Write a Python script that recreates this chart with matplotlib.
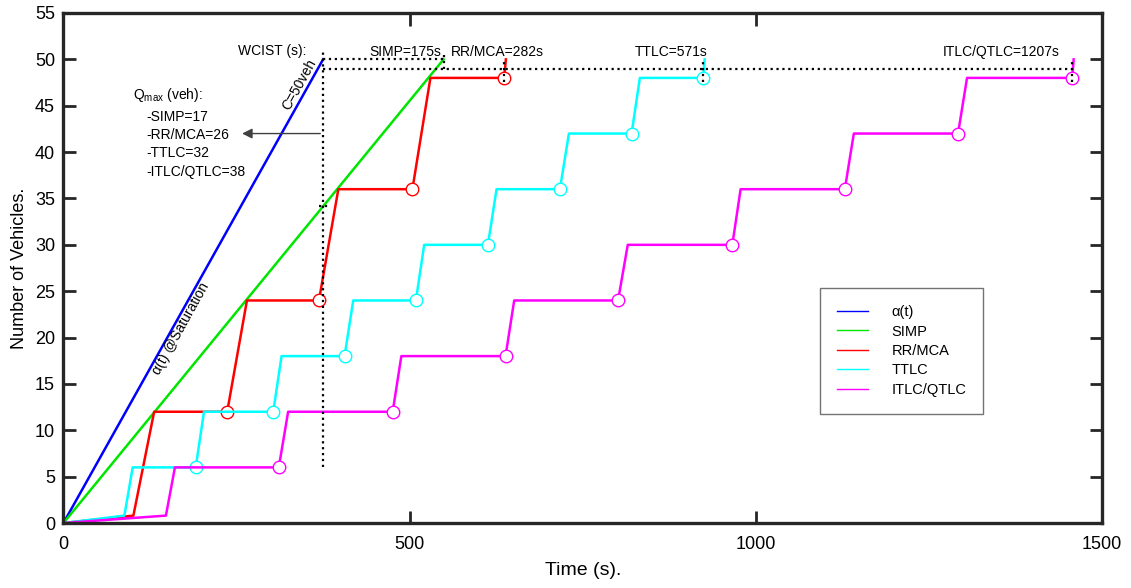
import matplotlib
matplotlib.use("Agg")
import matplotlib.pyplot as plt

plt.rcParams['font.family'] = ['Liberation Sans', 'DejaVu Sans']

# alpha(t) at saturation and SIMP are straight ramps up to C = 50 veh
alpha_t = [0, 375]
alpha_v = [0, 50]
simp_t = [0, 549]
simp_v = [0, 50]

rr_t = [0, 101, 131, 236.5, 265, 369, 397, 504, 530, 636.5, 639]
rr_v = [0, 0.8, 12, 12, 24, 24, 36, 36, 48, 48, 50]

ttlc_t = [0, 88, 100, 191, 203, 303, 315, 406, 418.5, 509, 521, 613, 625.5,
          717, 730, 820.5, 832.5, 924, 926]
ttlc_v = [0, 0.8, 6, 6, 12, 12, 18, 18, 24, 24, 30, 30, 36, 36, 42, 42, 48, 48, 50]

itlc_t = [0, 148, 161, 311, 324.5, 475.5, 488, 638.5, 651, 801, 815, 966, 978,
          1128.5, 1141.5, 1292, 1305, 1457, 1459]
itlc_v = [0, 0.8, 6, 6, 12, 12, 18, 18, 24, 24, 30, 30, 36, 36, 42, 42, 48, 48, 50]

labels = ['\u03b1(t)', 'SIMP', 'RR/MCA', 'TTLC', 'ITLC/QTLC']
colors = ['#0000ff', '#00e600', '#ff0000', '#00ffff', '#ff00ff']

wcist_start = 375
wcist_labels = ['SIMP=175s', 'RR/MCA=282s', 'TTLC=571s', 'ITLC/QTLC=1207s']
qmax_lines = ['-SIMP=17', '-RR/MCA=26', '-TTLC=32', '-ITLC/QTLC=38']

fig = plt.figure(figsize=(11.31, 5.88), dpi=100)
ax = fig.add_axes([0.0561, 0.1105, 0.9183, 0.8674])

lw = 1.8
ax.plot(alpha_t, alpha_v, color=colors[0], lw=lw, label=labels[0])
ax.plot(simp_t, simp_v, color=colors[1], lw=lw, label=labels[1])
for t, v, c, lab in [(rr_t, rr_v, colors[2], labels[2]),
                     (ttlc_t, ttlc_v, colors[3], labels[3]),
                     (itlc_t, itlc_v, colors[4], labels[4])]:
    ax.plot(t, v, color=c, lw=lw, label=lab, marker='o', markersize=9,
            markerfacecolor='white', markeredgecolor=c, markeredgewidth=1.0,
            markevery=list(range(3, len(t) - 1, 2)))

# WCIST guide lines
dot = dict(color='black', ls=':', lw=1.6, zorder=5)
ax.plot([wcist_start, wcist_start], [6, 51.1], **dot)
ax.plot([wcist_start, simp_t[-1]], [50, 50], **dot)
ax.plot([wcist_start, itlc_t[-2]], [49, 49], **dot)
ax.plot([simp_t[-1], simp_t[-1]], [49, 50.5], **dot)
ax.plot([369, 385], [34.2, 34.2], **dot)
for t_end in [rr_t[-2], ttlc_t[-2], itlc_t[-2]]:
    ax.plot([t_end, t_end], [47.6, 49.8], **dot)

fs = 10
ax.text(351, 50.9, 'WCIST (s):', ha='right', va='center', fontsize=fs)
ax.text(546, 50.8, wcist_labels[0], ha='right', va='center', fontsize=fs)
ax.text(560, 50.8, wcist_labels[1], ha='left', va='center', fontsize=fs)
ax.text(825, 50.8, wcist_labels[2], ha='left', va='center', fontsize=fs)
ax.text(1270, 50.8, wcist_labels[3], ha='left', va='center', fontsize=fs)

ax.text(340, 47.3, 'C=50veh', rotation=61, ha='center', va='center', fontsize=fs)
ax.text(170, 21.0, '\u03b1(t) @Saturation', rotation=61, ha='center', va='center',
        fontsize=fs)

ax.text(100, 46.2, r'Q$_{\mathregular{max}}$ (veh):', ha='left', va='center', fontsize=fs)
for i, line in enumerate(qmax_lines):
    ax.text(120, 43.8 - 1.97 * i, line, ha='left', va='center', fontsize=fs)

ax.annotate('', xy=(254, 42.0), xytext=(wcist_start, 42.0),
            arrowprops=dict(arrowstyle='-|>', color='0.25', lw=1.0,
                            mutation_scale=15))

ax.set_xlim(0, 1500)
ax.set_ylim(0, 55)
ax.set_xticks([0, 500, 1000, 1500])
ax.set_yticks(range(0, 56, 5))
ax.tick_params(direction='in', length=9, width=2.0, labelsize=13,
               top=True, right=True, color='#262626')
ax.tick_params(axis='x', pad=9)
ax.tick_params(axis='y', pad=6)
for s in ax.spines.values():
    s.set_linewidth(2.4)
    s.set_color('#262626')
ax.set_xlabel('Time (s).', fontsize=14, labelpad=7)
ax.set_ylabel('Number of Vehicles.', fontsize=13, labelpad=5)

leg = ax.legend(loc='upper left', bbox_to_anchor=(0.7285, 0.460), borderaxespad=0,
                fontsize=10.5, handlelength=2.17, handletextpad=1.6, labelspacing=0.37,
                borderpad=1.15, fancybox=False, framealpha=1)
leg.get_frame().set_edgecolor('0.45')
leg.get_frame().set_linewidth(1.0)
for h in leg.get_lines():
    h.set_linewidth(1.0)
    h.set_marker('')

fig.savefig('out.png', dpi=100)
